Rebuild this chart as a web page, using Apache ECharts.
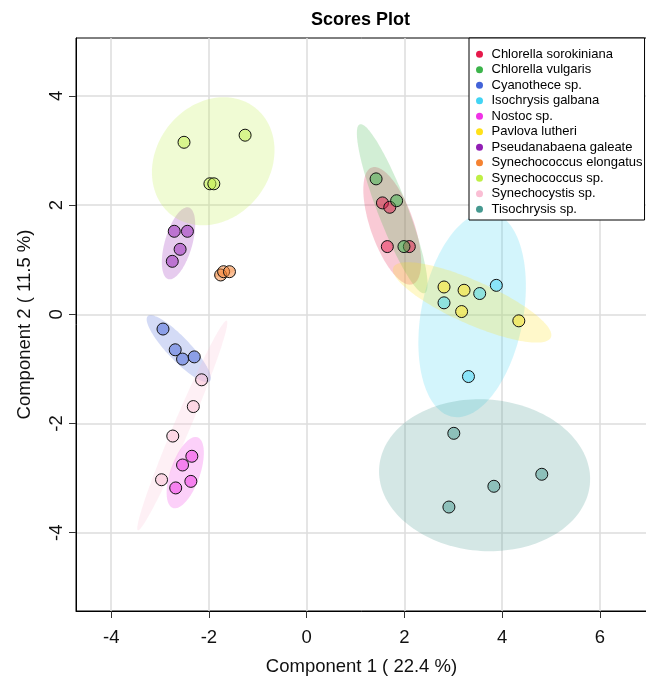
<!DOCTYPE html>
<html>
<head>
<meta charset="utf-8">
<script src="https://cdn.jsdelivr.net/npm/echarts@6/dist/echarts.min.js"></script>
<style>html,body{margin:0;padding:0;background:#fff}#chart{width:646px;height:677px}</style>
</head>
<body>
<div id="chart"></div>
<script>
// ---- data ----
const groups = ['Chlorella sorokiniana','Chlorella vulgaris','Cyanothece sp.','Isochrysis galbana','Nostoc sp.','Pavlova lutheri','Pseudanabaena galeate','Synechococcus elongatus','Synechococcus sp.','Synechocystis sp.','Tisochrysis sp.'];
const colors = ['#e6194b','#3cb44b','#4363d8','#42d4f4','#f032e6','#ffe119','#911eb4','#f58231','#bfef45','#fabed4','#469990'];
const chlorellaSorokiniana = [[1.55,2.04],[1.70,1.96],[1.65,1.24],[2.10,1.24]];
const chlorellaVulgaris   = [[1.42,2.48],[1.84,2.08],[1.99,1.24]];
const cyanothece          = [[-2.94,-0.27],[-2.69,-0.65],[-2.54,-0.82],[-2.30,-0.78]];
const isochrysisGalbana   = [[2.81,0.21],[3.54,0.38],[3.88,0.53],[3.31,-1.14]];
const nostoc              = [[-2.35,-2.60],[-2.54,-2.76],[-2.37,-3.06],[-2.68,-3.18]];
const pavlovaLutheri      = [[2.81,0.50],[3.22,0.44],[3.17,0.05],[4.34,-0.12]];
const pseudanabaena       = [[-2.71,1.52],[-2.44,1.52],[-2.59,1.19],[-2.75,0.97]];
const synechococcusElong  = [[-1.76,0.72],[-1.70,0.78],[-1.58,0.78]];
const synechococcusSp     = [[-2.51,3.15],[-1.26,3.28],[-1.98,2.39],[-1.90,2.39]];
const synechocystis       = [[-2.15,-1.20],[-2.32,-1.69],[-2.74,-2.23],[-2.97,-3.03]];
const tisochrysis         = [[3.01,-2.18],[4.81,-2.93],[3.83,-3.15],[2.91,-3.53]];
const xTicks = [-4,-2,0,2,4,6];
const yTicks = [-4,-2,0,2,4];
const xTitle = 'Component 1 ( 22.4 %)';
const yTitle = 'Component 2 ( 11.5 %)';
const chartTitle = 'Scores Plot';

const groupData = [chlorellaSorokiniana, chlorellaVulgaris, cyanothece, isochrysisGalbana, nostoc, pavlovaLutheri, pseudanabaena, synechococcusElong, synechococcusSp, synechocystis, tisochrysis];

// 95% confidence ellipse (as ellipse::ellipse(cov, centre, level=0.95))
const T95 = Math.sqrt(5.991464547);
function ellipse(pts) {
  const n = pts.length;
  const mx = pts.reduce((s,p)=>s+p[0],0)/n, my = pts.reduce((s,p)=>s+p[1],0)/n;
  let sxx=0, syy=0, sxy=0;
  pts.forEach(p=>{ const dx=p[0]-mx, dy=p[1]-my; sxx+=dx*dx; syy+=dy*dy; sxy+=dx*dy; });
  sxx/=(n-1); syy/=(n-1); sxy/=(n-1);
  const tr = sxx+syy, det = sxx*syy-sxy*sxy;
  const disc = Math.sqrt(Math.max(tr*tr/4-det,0));
  const l1 = tr/2+disc, l2 = Math.max(tr/2-disc,0);
  let v1x, v1y;
  if (Math.abs(sxy) > 1e-12) { v1x = sxy; v1y = l1-sxx; } else if (sxx>=syy) { v1x=1; v1y=0; } else { v1x=0; v1y=1; }
  const nrm = Math.hypot(v1x,v1y); v1x/=nrm; v1y/=nrm;
  const a = T95*Math.sqrt(l1), b = T95*Math.sqrt(l2);
  const out = [];
  for (let i=0;i<160;i++) {
    const t = i/160*2*Math.PI;
    const u = a*Math.cos(t), w = b*Math.sin(t);
    out.push([mx + u*v1x - w*v1y, my + u*v1y + w*v1x]);
  }
  return {mean:[mx,my], pts:out};
}
function rgba(hex, a) {
  const r=parseInt(hex.slice(1,3),16), g=parseInt(hex.slice(3,5),16), b=parseInt(hex.slice(5,7),16);
  return `rgba(${r},${g},${b},${a})`;
}

const FONT = 'Liberation Sans';
const series = [];
series.push({
  type:'line', name:'grid', data:[], silent:true, z:0,
  markLine:{ silent:true, z:0, symbol:['none','none'], label:{show:false}, animation:false,
    lineStyle:{color:'#dcdcdc', width:1.5, type:'solid'},
    emphasis:{disabled:true},
    data: xTicks.map(v=>({xAxis:v})).concat(yTicks.map(v=>({yAxis:v}))) }
});
groupData.forEach((pts, gi) => {
  const e = ellipse(pts);
  series.push({
    type:'custom', name: groups[gi] + ' region', z:1, clip:true, silent:true,
    data:[e.mean], encode:{x:0,y:1},
    renderItem: (params, api) => ({
      type:'polygon',
      shape:{ points: e.pts.map(p=>api.coord(p)) },
      style:{ fill: rgba(colors[gi], 0.23), stroke:'none' }
    })
  });
});
groupData.forEach((pts, gi) => {
  series.push({
    type:'scatter', name: groups[gi], z:3, data: pts, symbolSize:12, silent:true,
    itemStyle:{ color: rgba(colors[gi],0.5), borderColor:'#111', borderWidth:1, opacity:1 },
    emphasis:{disabled:true}
  });
});

const chart = echarts.init(document.getElementById('chart'), null, {renderer:'canvas'});
chart.setOption({
  animation:false,
  backgroundColor:'#fff',
  title:{ text: chartTitle, left:311, top:11, padding:0, textStyle:{fontFamily:FONT, fontSize:18, fontWeight:'bold', color:'#000'} },
  grid:{ left:76, right:-1, top:38, bottom:66, show:true, borderColor:'#000', borderWidth:1, backgroundColor:'transparent', containLabel:false, outerBoundsMode:'none' },
  xAxis:{ type:'value', min:-4.72, max:6.963,
    axisLine:{show:true, onZero:false, lineStyle:{color:'#000'}},
    axisTick:{show:true, length:7, customValues:xTicks, lineStyle:{color:'#333'}},
    axisLabel:{customValues:xTicks, fontFamily:FONT, fontSize:18.5, color:'#111', margin:17},
    splitLine:{show:false},
    name:xTitle, nameLocation:'middle', nameGap:46, nameTextStyle:{fontFamily:FONT, fontSize:18.5, color:'#111'} },
  yAxis:{ type:'value', min:-5.434, max:5.06,
    axisLine:{show:true, onZero:false, lineStyle:{color:'#000'}},
    axisTick:{show:true, length:7, customValues:yTicks, lineStyle:{color:'#333'}},
    axisLabel:{customValues:yTicks, rotate:90, fontFamily:FONT, fontSize:18.5, color:'#111', margin:10},
    splitLine:{show:false},
    name:yTitle, nameLocation:'middle', nameGap:42, nameTextStyle:{fontFamily:FONT, fontSize:18.5, color:'#111'} },
  legend:{ orient:'vertical', left:469, top:38, z:20, padding:[8.5,2,3,7], itemWidth:14, itemHeight:7, itemGap:0,
    icon:'circle', backgroundColor:'#fff', borderColor:'#000', borderWidth:1, selectedMode:false,
    textStyle:{fontFamily:FONT, fontSize:13, lineHeight:15.5, color:'#000'},
    data: groups.map((g,i)=>({name:g, itemStyle:{color:colors[i], borderWidth:0, opacity:1}})) },
  series
});
</script>
</body>
</html>
